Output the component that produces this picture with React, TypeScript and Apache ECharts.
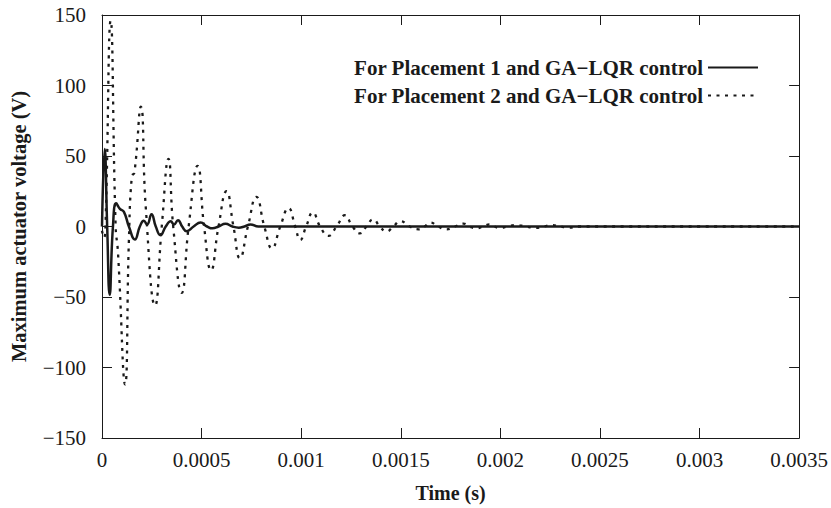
import React, { useEffect, useRef } from "react";
import * as echarts from "echarts";

const xTicks = [0, 0.0005, 0.001, 0.0015, 0.002, 0.0025, 0.003, 0.0035];
const xTickLabels = ["0", "0.0005", "0.001", "0.0015", "0.002", "0.0025", "0.003", "0.0035"];
const yTicks = [-150, -100, -50, 0, 50, 100, 150];
const yTickLabels = ["−150", "−100", "−50", "0", "50", "100", "150"];
const seriesNames = ["For Placement 1 and GA−LQR control", "For Placement 2 and GA−LQR control"];
const xAxisTitle = "Time (s)";
const yAxisTitle = "Maximum actuator voltage (V)";

// [time (s), voltage (V)]
const placement1: [number, number][] = [
  [0, 0], [0.0000135, 55], [0.000026, 0], [0.0000385, -48.4], [0.000055, 0],
  [0.0000715, 16.5], [0.00009, 12.5], [0.00011, 10.4], [0.000135, 0], [0.000165, -9.2],
  [0.00019, 0], [0.00021, 4], [0.0002265, 1.5], [0.0002485, 8.7], [0.00027, 0],
  [0.0002935, -6.1], [0.00032, 0], [0.000345, 3.8], [0.0003615, 1.4], [0.0003815, 4.5],
  [0.0004025, 0], [0.000425, -3.3], [0.00046, 0], [0.000495, 2.8], [0.0005275, 0],
  [0.000555, -1.3], [0.000585, 0], [0.00062, 2], [0.000655, 0], [0.0006865, -0.8],
  [0.000715, 0], [0.000745, 1.5], [0.000785, 0], [0.0035, 0],
];

const placement2: [number, number][] = [
  [0, -3], [0.00001, -8], [0.0000175, 0], [0.0000435, 146], [0.0000685, 0],
  [0.00008, -18], [0.000116, -112], [0.000135, -10], [0.00015, 36], [0.0001625, 38],
  [0.000195, 85], [0.00022, 13], [0.0002665, -56], [0.0003, 0], [0.0003335, 48],
  [0.0003575, 0], [0.0004, -47], [0.000435, 0], [0.00048, 43], [0.0005125, 0],
  [0.0005475, -31], [0.000585, 0], [0.000625, 25], [0.00066, 0], [0.0006925, -22.5],
  [0.0007325, 0], [0.000775, 21], [0.000815, 0], [0.0008535, -15.5], [0.000895, 0],
  [0.0009365, 13], [0.00097, 0], [0.000995, -9.6], [0.001025, 0], [0.0010585, 10],
  [0.001095, 0], [0.0011365, -6.6], [0.0011775, 0], [0.00122, 8], [0.0012575, 0],
  [0.001295, -4.9], [0.0013275, 0], [0.0013615, 5.1], [0.001395, 0], [0.0014275, -3.5],
  [0.0014625, 0], [0.0014985, 3.8], [0.001545, 0], [0.00159, -2], [0.00162, 0],
  [0.0016485, 2.8], [0.0016875, 0], [0.0017285, -2], [0.0017725, 0], [0.001815, 2],
  [0.001845, 0], [0.00188, -1.2], [0.0019125, 0], [0.001945, 1.5], [0.00197, 0],
  [0.001995, -1], [0.002035, 0], [0.0020785, 1], [0.0021285, 0], [0.0021785, -1],
  [0.00222, 0], [0.00226, 1], [0.0023, 0], [0.002345, -0.8], [0.002395, 0], [0.0035, 0],
];

export default function App() {
  const ref = useRef<HTMLDivElement>(null);
  useEffect(() => {
    const chart = echarts.init(ref.current!, null, { renderer: "svg" });
    const font = "'Liberation Serif', 'Times New Roman', serif";
    const ink = "#1a1a1a";
    const xLabel = (v: number) => {
      const i = xTicks.findIndex((t) => Math.abs(t - v) < 1e-9);
      return i >= 0 ? xTickLabels[i] : "";
    };
    const yLabel = (v: number) => {
      const i = yTicks.findIndex((t) => Math.abs(t - v) < 1e-6);
      return i >= 0 ? yTickLabels[i] : "";
    };
    const axisLine = { show: true, onZero: false, lineStyle: { color: ink, width: 1 } };
    const axisTick = { show: true, inside: true, length: 10, lineStyle: { color: ink, width: 1 } };
    chart.setOption({
      animation: false,
      backgroundColor: "#ffffff",
      grid: { left: 101, right: 29, top: 15, bottom: 67, containLabel: false },
      legend: {
        data: seriesNames,
        orient: "vertical",
        align: "right",
        right: 67,
        top: 52,
        itemGap: 7,
        itemWidth: 50,
        itemHeight: 14,
        selectedMode: false,
        itemStyle: { color: "transparent", borderColor: "transparent", borderWidth: 0 },
        textStyle: {
          fontFamily: font,
          fontWeight: "bold",
          fontSize: 21,
          lineHeight: 21,
          color: ink,
        },
      },
      xAxis: [
        {
          type: "value",
          position: "bottom",
          min: 0,
          max: 0.0035,
          interval: 0.0005,
          name: xAxisTitle,
          nameLocation: "middle",
          nameGap: 45,
          nameTextStyle: { fontFamily: font, fontWeight: "bold", fontSize: 20, color: ink },
          axisLine,
          axisTick,
          splitLine: { show: false },
          axisLabel: { formatter: xLabel, fontFamily: font, fontSize: 21, color: ink, margin: 11 },
        },
        {
          type: "value",
          position: "top",
          min: 0,
          max: 0.0035,
          interval: 0.0005,
          axisLine,
          axisTick,
          splitLine: { show: false },
          axisLabel: { show: false },
        },
      ],
      yAxis: [
        {
          type: "value",
          position: "left",
          min: -150,
          max: 150,
          interval: 50,
          name: yAxisTitle,
          nameLocation: "middle",
          nameGap: 73,
          nameTruncate: { maxWidth: 1000 },
          nameTextStyle: { fontFamily: font, fontWeight: "bold", fontSize: 20.5, color: ink },
          axisLine,
          axisTick,
          splitLine: { show: false },
          axisLabel: { formatter: yLabel, fontFamily: font, fontSize: 21, color: ink, margin: 16 },
        },
        {
          type: "value",
          position: "right",
          min: -150,
          max: 150,
          interval: 50,
          axisLine,
          axisTick,
          splitLine: { show: false },
          axisLabel: { show: false },
        },
      ],
      series: [
        {
          name: seriesNames[0],
          type: "line",
          data: placement1,
          showSymbol: false,
          symbol: "none",
          smooth: 0.5,
          z: 3,
          lineStyle: { color: ink, width: 2.5, type: "solid" },
          itemStyle: { color: ink },
        },
        {
          name: seriesNames[1],
          type: "line",
          data: placement2,
          showSymbol: false,
          symbol: "none",
          smooth: 0.5,
          z: 2,
          lineStyle: { color: ink, width: 2.3, type: [3, 5.5] },
          itemStyle: { color: ink },
        },
      ],
    });
    return () => chart.dispose();
  }, []);
  return <div ref={ref} style={{ position: "absolute", left: 0, top: 0, width: 831, height: 508 }} />;
}
